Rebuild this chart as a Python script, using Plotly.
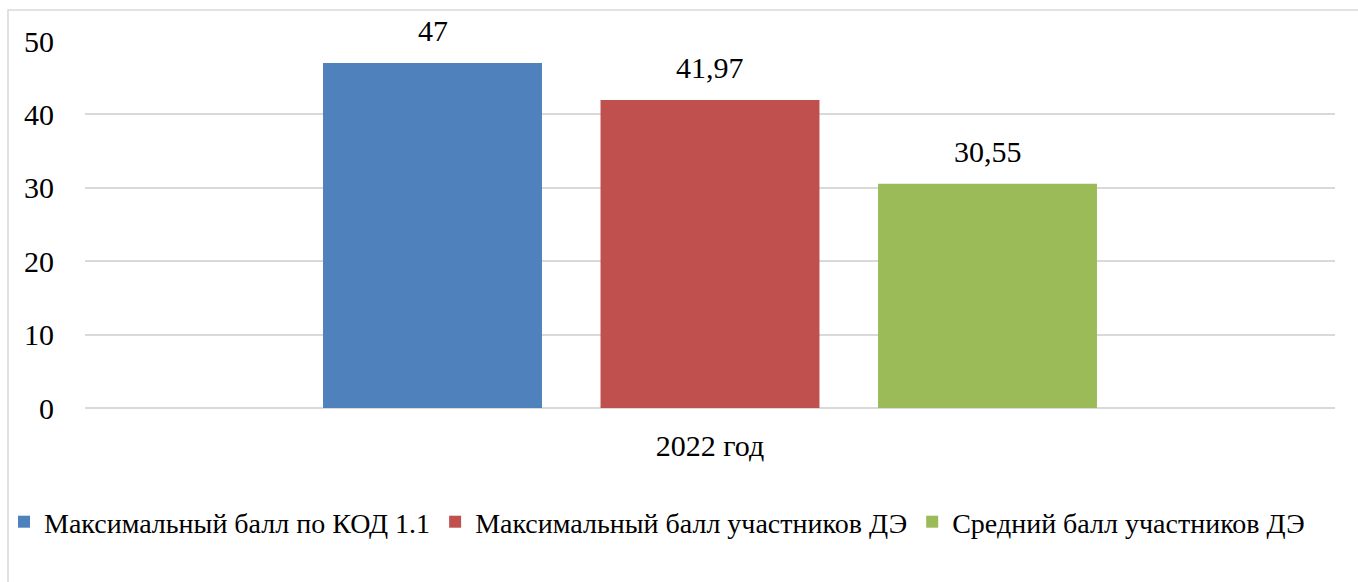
import plotly.graph_objects as go

categories = ["2022 год"]
series_names = ["Максимальный балл по КОД 1.1", "Максимальный балл участников ДЭ", "Средний балл участников ДЭ"]
series_values = [[47], [41.97], [30.55]]
series_labels = [["47"], ["41,97"], ["30,55"]]
colors = ["#4f81bd", "#c0504d", "#9bbb59"]
y_ticks = [0, 10, 20, 30, 40, 50]

FONT = "Liberation Serif"
FS = 30
W, H = 1358, 582
L, R, T, B = 85, 23, 41, 174
pw, ph = W - L - R, H - T - B
BARGAP, BARGROUPGAP = 0.334, 0.211

fig = go.Figure()
n = len(series_names)
slot = pw * (1 - BARGAP) / n
annotations = []
for i, (name, vals, labs, col) in enumerate(zip(series_names, series_values, series_labels, colors)):
    fig.add_trace(go.Bar(
        x=categories, y=vals, name=name, marker=dict(color=col, line=dict(width=0)),
    ))
    for c, v, t in zip(categories, vals, labs):
        annotations.append(dict(x=c, y=v, xref="x", yref="y", text=t, showarrow=False,
                                xshift=(i - (n - 1) / 2) * slot, yshift=14, yanchor="bottom",
                                font=dict(family=FONT, size=FS, color="#000000")))

fig.update_layout(
    width=W, height=H,
    margin=dict(l=L, r=R, t=T, b=B, autoexpand=False),
    paper_bgcolor="white", plot_bgcolor="white",
    barmode="group", bargap=BARGAP, bargroupgap=BARGROUPGAP,
    font=dict(family=FONT, size=FS, color="#000000"),
    showlegend=True,
    legend=dict(orientation="h", x=(4 - L) / pw, xanchor="left", y=-(522 - 408) / ph, yanchor="middle",
                bgcolor="rgba(0,0,0,0)",
                font=dict(family=FONT, size=28), itemwidth=30, traceorder="normal",
                tracegroupgap=0),
    xaxis=dict(showgrid=False, showline=False, ticks="outside", ticklen=11, tickcolor="rgba(0,0,0,0)",
               tickfont=dict(family=FONT, size=FS)),
    yaxis=dict(range=[0, 50], tickvals=y_ticks, showgrid=True, gridcolor="#d9d9d9", gridwidth=1.5,
               zeroline=True, zerolinecolor="#d9d9d9", zerolinewidth=1.5, showline=False,
               ticks="outside", ticklen=24, tickcolor="rgba(0,0,0,0)",
               tickfont=dict(family=FONT, size=FS)),
    annotations=annotations,
    shapes=[dict(type="rect", xref="paper", yref="paper",
                 x0=(8 - L) / pw, x1=(W + 20 - L) / pw,
                 y0=-(H + 20 - 408) / ph, y1=(408 - 10) / ph,
                 line=dict(color="#d9d9d9", width=1.5), fillcolor="rgba(0,0,0,0)", layer="below")],
)

fig.write_html("out.html", config={"displayModeBar": False},
               post_script="document.body.style.margin='0';document.body.style.overflow='hidden';")
